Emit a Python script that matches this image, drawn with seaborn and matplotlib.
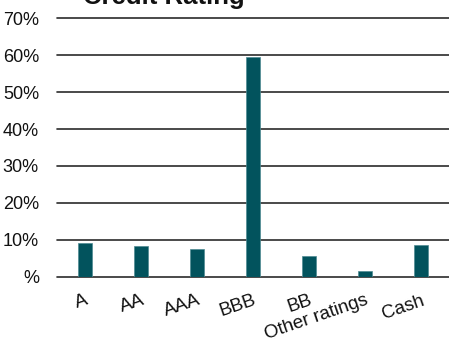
import matplotlib
matplotlib.use("Agg")
import matplotlib.pyplot as plt
import seaborn as sns
import pandas as pd

categories = ["A", "AA", "AAA", "BBB", "BB", "Other ratings", "Cash"]
values = [9.05, 8.2, 7.6, 59.6, 5.5, 1.6, 8.6]
ytick_values = [0, 10, 20, 30, 40, 50, 60, 70]
ytick_labels = ["%", "10%", "20%", "30%", "40%", "50%", "60%", "70%"]
title = "Credit Rating"

sns.set_theme(style="white")
plt.rcParams["font.family"] = ["Liberation Sans", "DejaVu Sans"]

df = pd.DataFrame({"category": categories, "value": values})

fig = plt.figure(figsize=(4.49, 3.40), dpi=100)
ax = fig.add_axes([57 / 449, 1 - 276.7 / 340, 1 - 57 / 449, (276.7 - 18.3) / 340])

sns.barplot(data=df, x="category", y="value", color="#02535d", width=0.255,
            edgecolor="#4f8a92", linewidth=0.5, saturation=1, ax=ax, zorder=3)

ax.set_xlim(-0.5, 6.5)
ax.set_ylim(0, 70)
ax.set_yticks(ytick_values)
ax.set_yticklabels(ytick_labels, fontsize=13, color="#111111")
for y in ytick_values:
    ax.axhline(y, color="#2b2b2b", lw=1.2, zorder=2, clip_on=False)

ax.set_xticks(range(len(categories)))
ax.set_xticklabels(categories, fontsize=13.5, color="#111111", rotation=19,
                   ha="right", va="top", rotation_mode="anchor")
ax.tick_params(axis="y", length=0, pad=13)
ax.tick_params(axis="x", length=0, pad=11)
ax.set_xlabel("")
ax.set_ylabel("")
for s in ax.spines.values():
    s.set_visible(False)

fig.text(83 / 449, 1 - 4 / 340, title, fontsize=18.5, fontweight="bold",
         ha="left", va="baseline", color="#111111")

fig.savefig("out.png", dpi=100)
